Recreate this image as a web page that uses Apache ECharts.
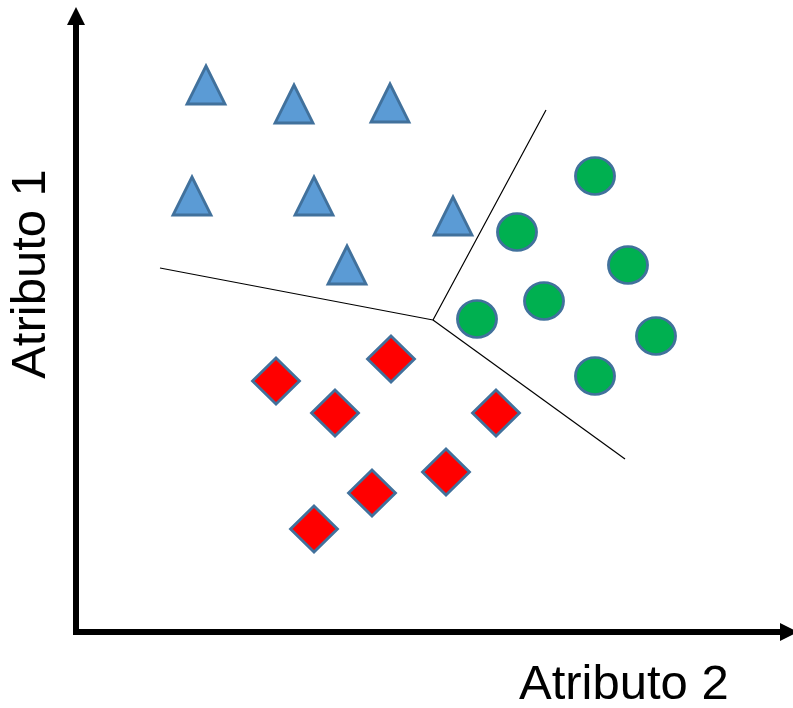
<!DOCTYPE html>
<html>
<head>
<meta charset="utf-8">
<script src="https://cdn.jsdelivr.net/npm/echarts@6/dist/echarts.min.js"></script>
<style>html,body{margin:0;padding:0;background:#fff}#c{width:793px;height:708px}</style>
</head>
<body>
<div id="c"></div>
<script>
// Values in plot units (x: Atributo 2, y: Atributo 1)
var triangles = [[130,547],[218,528],[314,529],[116,436],[238,436],[377,416],[271,367]];
var circles = [[519,456],[441,400],[552,367],[468,331],[401,313],[580,296],[519,256]];
var diamonds = [[200,251],[315,273],[259,219],[420,219],[370,160],[296,139],[238,103]];
var boundaryA = [[84,364],[357,312],[470,522]];
var boundaryB = [[357,312],[549,173]];
var xName = 'Atributo 2';
var yName = 'Atributo 1';

var chart = echarts.init(document.getElementById('c'));
var edge = '#41719C';
var axisCommon = {
  type: 'value', min: 0,
  axisTick: {show: false}, axisLabel: {show: false}, splitLine: {show: false},
  axisLine: {show: true, symbol: ['none', 'triangle'], symbolSize: [18, 18],
    lineStyle: {color: '#000', width: 6, cap: 'square'}}
};
chart.setOption({
  animation: false,
  grid: {left: 76, right: 4, top: 16, bottom: 76},
  xAxis: Object.assign({}, axisCommon, {max: 713}),
  yAxis: Object.assign({}, axisCommon, {max: 616}),
  graphic: [
    {type: 'text', x: 519, y: 685, style: {text: xName, font: '49px "Liberation Sans"', fill: '#000', textAlign: 'left', textVerticalAlign: 'middle'}},
    {type: 'text', x: 31, y: 274, rotation: Math.PI / 2, style: {text: yName, font: '49px "Liberation Sans"', fill: '#000', textAlign: 'center', textVerticalAlign: 'middle'}}
  ],
  series: [
    {type: 'line', data: boundaryA, symbol: 'none', lineStyle: {color: '#000', width: 1.2}, z: 1},
    {type: 'line', data: boundaryB, symbol: 'none', lineStyle: {color: '#000', width: 1.2}, z: 1},
    {type: 'scatter', data: triangles, symbol: 'triangle', symbolSize: [38, 38],
      itemStyle: {color: '#5B9BD5', borderColor: edge, borderWidth: 2.8, opacity: 1}, z: 3},
    {type: 'scatter', data: circles, symbol: 'circle', symbolSize: [39, 37],
      itemStyle: {color: '#00B050', borderColor: edge, borderWidth: 2.8, opacity: 1}, z: 3},
    {type: 'scatter', data: diamonds, symbol: 'diamond', symbolSize: [47, 46],
      itemStyle: {color: '#FF0000', borderColor: edge, borderWidth: 2.8, opacity: 1}, z: 3}
  ]
});
</script>
</body>
</html>
